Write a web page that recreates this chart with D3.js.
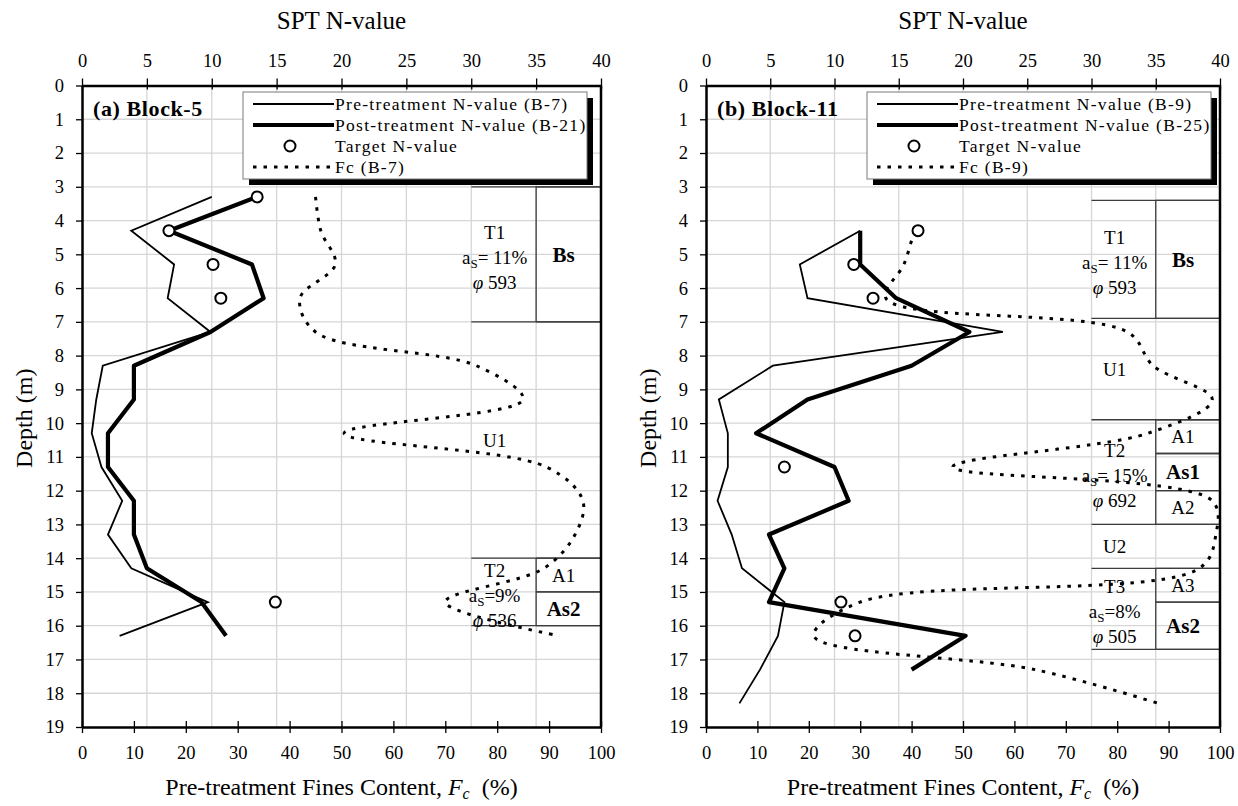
<!DOCTYPE html>
<html>
<head>
<meta charset="utf-8">
<script src="https://cdn.jsdelivr.net/npm/d3@7"></script>
<style>
  body { margin: 0; background: #fff; }
  svg { display: block; font-family: "Liberation Serif", "Times New Roman", serif; }
</style>
</head>
<body>
<svg id="chart" width="1238" height="806"></svg>
<script>
// ticks
const depthTicks = d3.range(0, 20);
const nTicks = [0, 5, 10, 15, 20, 25, 30, 35, 40];
const fcTicks = [0, 10, 20, 30, 40, 50, 60, 70, 80, 90, 100];

// Block-5 (B-7 / B-21)
const b5Depth = [3.3, 4.3, 5.3, 6.3, 7.3, 8.3, 9.3, 10.3, 11.3, 12.3, 13.3, 14.3, 15.3, 16.3];
const b5Pre = [10.0, 3.8, 7.1, 6.6, 9.9, 1.6, 1.1, 0.75, 1.5, 3.1, 2.0, 3.8, 9.7, 2.9];
const b5Post = [13.5, 6.7, 13.1, 14.0, 9.9, 4.0, 4.0, 2.0, 2.0, 4.0, 4.0, 5.0, 9.2, 11.1];
const b5TargetDepth = [3.3, 4.3, 5.3, 6.3, 15.3];
const b5Target = [13.5, 6.7, 10.1, 10.7, 14.9];
const b5Fc = [45, 46, 48.8, 42, 45, 76, 85, 50.5, 89.5, 96.5, 95, 89, 70, 92];
const b5Legend = ["Pre-treatment N-value (B-7)", "Post-treatment N-value (B-21)", "Target N-value", "Fc (B-7)"];
const b5Zones = [
  {top: 3, bottom: 7, name: "T1", as: "= 11%", phi: "593"},
  {top: 7, bottom: 14, name: "U1"},
  {top: 14, bottom: 16, name: "T2", as: "=9%", phi: "536"}
];
const b5Cells = [
  {top: 3, bottom: 7, name: "Bs", bold: true},
  {top: 14, bottom: 15, name: "A1", bold: false},
  {top: 15, bottom: 16, name: "As2", bold: true}
];

// Block-11 (B-9 / B-25)
const b11Depth = [4.3, 5.3, 6.3, 7.3, 8.3, 9.3, 10.3, 11.3, 12.3, 13.3, 14.3, 15.3, 16.3, 17.3, 18.3];
const b11Pre = [12.0, 7.3, 7.9, 23.1, 5.2, 1.0, 1.7, 1.7, 0.9, 2.0, 2.8, 6.1, 5.6, 4.2, 2.6];
const b11PostDepth = [4.3, 5.3, 6.3, 7.3, 8.3, 9.3, 10.3, 11.3, 12.3, 13.3, 14.3, 15.3, 16.3, 17.3];
const b11Post = [12.0, 12.0, 14.8, 20.5, 16.0, 7.9, 3.9, 10.0, 11.1, 4.9, 6.1, 4.9, 20.2, 16.0];
const b11TargetDepth = [4.3, 5.3, 6.3, 11.3, 15.3, 16.3];
const b11Target = [16.5, 11.5, 13.0, 6.1, 10.5, 11.6];
const b11Fc = [40.5, 38.5, 35, 82, 87, 98.5, 86, 48, 98.5, 99.2, 96, 30, 21, 64, 88];
const b11Legend = ["Pre-treatment N-value (B-9)", "Post-treatment N-value (B-25)", "Target N-value", "Fc (B-9)"];
const b11Zones = [
  {top: 3.4, bottom: 6.9, name: "T1", as: "= 11%", phi: "593"},
  {top: 6.9, bottom: 9.9, name: "U1"},
  {top: 9.9, bottom: 13, name: "T2", as: "= 15%", phi: "692"},
  {top: 13, bottom: 14.3, name: "U2"},
  {top: 14.3, bottom: 16.7, name: "T3", as: "=8%", phi: "505"}
];
const b11Cells = [
  {top: 3.4, bottom: 6.9, name: "Bs", bold: true},
  {top: 9.9, bottom: 10.9, name: "A1", bold: false},
  {top: 10.9, bottom: 12, name: "As1", bold: true},
  {top: 12, bottom: 13, name: "A2", bold: false},
  {top: 14.3, bottom: 15.3, name: "A3", bold: false},
  {top: 15.3, bottom: 16.7, name: "As2", bold: true}
];

const panels = [
  {left: 82, right: 601, title: "(a) Block-5",
   preDepth: b5Depth, pre: b5Pre, postDepth: b5Depth, post: b5Post,
   targetDepth: b5TargetDepth, target: b5Target, fcDepth: b5Depth, fc: b5Fc,
   legend: b5Legend, zones: b5Zones, cells: b5Cells},
  {left: 706, right: 1220, title: "(b) Block-11",
   preDepth: b11Depth, pre: b11Pre, postDepth: b11PostDepth, post: b11Post,
   targetDepth: b11TargetDepth, target: b11Target, fcDepth: b11Depth, fc: b11Fc,
   legend: b11Legend, zones: b11Zones, cells: b11Cells}
];

const svg = d3.select("#chart");
const plotTop = 85.5, plotBottom = 727;
const dotted = "3.5,7";

panels.forEach(drawPanel);

function drawPanel(p) {
  const y = d3.scaleLinear().domain([0, 19]).range([plotTop, plotBottom]);
  const xN = d3.scaleLinear().domain([0, 40]).range([p.left, p.right]);
  const xFc = d3.scaleLinear().domain([0, 100]).range([p.left, p.right]);
  const g = svg.append("g");

  //Gridlines
  g.append("g").selectAll("line")
    .data(depthTicks.filter(d => d > 0 && d < 19))
    .join("line")
      .attr("x1", p.left).attr("x2", p.right)
      .attr("y1", d => y(d)).attr("y2", d => y(d))
      .attr("stroke", "#d6d6d6").attr("stroke-width", 1.3);
  g.append("g").selectAll("line")
    .data(nTicks.filter(d => d > 0 && d < 40))
    .join("line")
      .attr("x1", d => xN(d)).attr("x2", d => xN(d))
      .attr("y1", plotTop).attr("y2", plotBottom)
      .attr("stroke", "#d6d6d6").attr("stroke-width", 1.3);

  // layer table (columns sit on the N=30 and N=35 gridlines)
  const colA = xFc(75), colB = xFc(87.5);
  const table = g.append("g").attr("stroke", "#3c3c3c").attr("stroke-width", 1.3);
  p.zones.filter(z => z.as).forEach(z => {
    [z.top, z.bottom].forEach(d => {
      table.append("line").attr("x1", colA).attr("x2", p.right).attr("y1", y(d)).attr("y2", y(d));
    });
  });
  p.cells.forEach(c => {
    [c.top, c.bottom].forEach(d => {
      table.append("line").attr("x1", colB).attr("x2", p.right).attr("y1", y(d)).attr("y2", y(d));
    });
    table.append("line").attr("x1", colB).attr("x2", colB).attr("y1", y(c.top)).attr("y2", y(c.bottom));
  });

  const zoneX = xFc(79.5), cellX = xFc(92.8);
  p.zones.forEach(z => {
    const cy = (y(z.top) + y(z.bottom)) / 2;
    if (!z.as) {
      g.append("text").attr("x", zoneX).attr("y", cy).attr("dy", "0.35em")
        .attr("text-anchor", "middle").attr("font-size", 19).text(z.name);
      return;
    }
    g.append("text").attr("x", zoneX).attr("y", cy - 22).attr("dy", "0.35em")
      .attr("text-anchor", "middle").attr("font-size", 19).text(z.name);
    const as = g.append("text").attr("x", zoneX).attr("y", cy + 3).attr("dy", "0.35em")
      .attr("text-anchor", "middle").attr("font-size", 19);
    as.append("tspan").text("a");
    as.append("tspan").attr("font-size", 13).attr("dy", 4).text("S");
    as.append("tspan").attr("dy", -4).text(z.as);
    const phi = g.append("text").attr("x", zoneX).attr("y", cy + 28).attr("dy", "0.35em")
      .attr("text-anchor", "middle").attr("font-size", 19);
    phi.append("tspan").attr("font-style", "italic").text("\u03c6");
    phi.append("tspan").text(" " + z.phi);
  });
  p.cells.forEach(c => {
    g.append("text").attr("x", cellX).attr("y", (y(c.top) + y(c.bottom)) / 2).attr("dy", "0.35em")
      .attr("text-anchor", "middle")
      .attr("font-size", c.bold ? 21 : 19)
      .attr("font-weight", c.bold ? "bold" : "normal")
      .text(c.name);
  });

  //Series
  const fcLine = d3.line()
    .x(d => xFc(d[0])).y(d => y(d[1]))
    .curve(d3.curveCatmullRom.alpha(0.5));
  g.append("path")
    .attr("d", fcLine(p.fc.map((v, i) => [v, p.fcDepth[i]])))
    .attr("fill", "none").attr("stroke", "#000")
    .attr("stroke-width", 3).attr("stroke-dasharray", dotted);

  const nLine = d3.line().x(d => xN(d[0])).y(d => y(d[1]));
  g.append("path")
    .attr("d", nLine(p.pre.map((v, i) => [v, p.preDepth[i]])))
    .attr("fill", "none").attr("stroke", "#000").attr("stroke-width", 1.8);
  g.append("path")
    .attr("d", nLine(p.post.map((v, i) => [v, p.postDepth[i]])))
    .attr("fill", "none").attr("stroke", "#000").attr("stroke-width", 4.2)
    .attr("stroke-linejoin", "round");

  g.append("g").selectAll("circle")
    .data(p.target.map((v, i) => [v, p.targetDepth[i]]))
    .join("circle")
      .attr("cx", d => xN(d[0])).attr("cy", d => y(d[1]))
      .attr("r", 5.5)
      .attr("fill", "#fff").attr("stroke", "#000").attr("stroke-width", 2);

  //Axes
  const topAxis = g.append("g")
    .attr("transform", `translate(0, ${plotTop})`)
    .call(d3.axisTop(xN).tickValues(nTicks).tickSize(7).tickSizeOuter(0));
  topAxis.selectAll(".tick line").attr("y1", 4);
  topAxis.selectAll(".tick text").attr("y", -19);

  const bottomAxis = g.append("g")
    .attr("transform", `translate(0, ${plotBottom})`)
    .call(d3.axisBottom(xFc).tickValues(fcTicks).tickSize(6).tickSizeOuter(0));
  bottomAxis.selectAll(".tick line").attr("y1", -6);
  bottomAxis.selectAll(".tick text").attr("y", 19);

  const leftAxis = g.append("g")
    .attr("transform", `translate(${p.left}, 0)`)
    .call(d3.axisLeft(y).tickValues(depthTicks).tickSize(6).tickSizeOuter(0).tickPadding(12));

  [topAxis, bottomAxis, leftAxis].forEach(a => {
    a.attr("font-family", null).attr("font-size", 18.5);
    a.select(".domain").attr("stroke-width", 2.5);
    a.selectAll(".tick line").attr("stroke-width", 1.3);
    a.selectAll(".tick text").attr("fill", "#000");
  });

  // right frame edge
  g.append("line")
    .attr("x1", p.right).attr("x2", p.right)
    .attr("y1", plotTop).attr("y2", plotBottom)
    .attr("stroke", "#000").attr("stroke-width", 2.5);

  //Axis titles
  const mid = (p.left + p.right) / 2;
  g.append("text").attr("x", mid).attr("y", 29)
    .attr("text-anchor", "middle").attr("font-size", 25).text("SPT N-value");

  const xt = g.append("text").attr("x", mid).attr("y", 795)
    .attr("text-anchor", "middle").attr("font-size", 24);
  xt.append("tspan").text("Pre-treatment Fines Content, ");
  xt.append("tspan").attr("font-style", "italic").text("F");
  xt.append("tspan").attr("font-style", "italic").attr("font-size", 16).attr("dy", 4).text("c");
  xt.append("tspan").attr("dy", -4).text("\u2002(%)");

  g.append("text")
    .attr("transform", `translate(${p.left - 50}, ${(plotTop + plotBottom) / 2 + 12}) rotate(-90)`)
    .attr("text-anchor", "middle").attr("font-size", 24).text("Depth (m)");

  //Panel title
  g.append("text").attr("x", p.left + 11).attr("y", 116)
    .attr("font-size", 22).attr("font-weight", "bold").attr("letter-spacing", 0.6)
    .text(p.title);

  //Legend
  const lg = g.append("g").attr("transform", `translate(${p.left + 161}, ${plotTop + 6.5})`);
  const lw = 344, lh = 87;
  lg.append("rect").attr("x", 6).attr("y", 6).attr("width", lw).attr("height", lh).attr("fill", "#000");
  lg.append("rect").attr("width", lw).attr("height", lh)
    .attr("fill", "#fff").attr("stroke", "#7a7a7a").attr("stroke-width", 1);

  const rows = lg.selectAll("g.row")
    .data(p.legend)
    .join("g")
      .attr("class", "row")
      .attr("transform", (d, i) => `translate(0, ${12 + i * 21})`);
  rows.append("text")
    .attr("x", 92).attr("dy", "0.35em")
    .attr("font-size", 17.5).attr("letter-spacing", 1.3)
    .text(d => d);
  rows.filter((d, i) => i !== 2).append("line")
    .attr("x1", 10).attr("x2", 91)
    .attr("stroke", "#000")
    .attr("stroke-width", d => [1.8, 4.2, 0, 3][p.legend.indexOf(d)])
    .attr("stroke-dasharray", d => p.legend.indexOf(d) === 3 ? dotted : null);
  rows.filter((d, i) => i === 2).append("circle")
    .attr("cx", 47).attr("r", 5.5)
    .attr("fill", "#fff").attr("stroke", "#000").attr("stroke-width", 2);
}
</script>
</body>
</html>
